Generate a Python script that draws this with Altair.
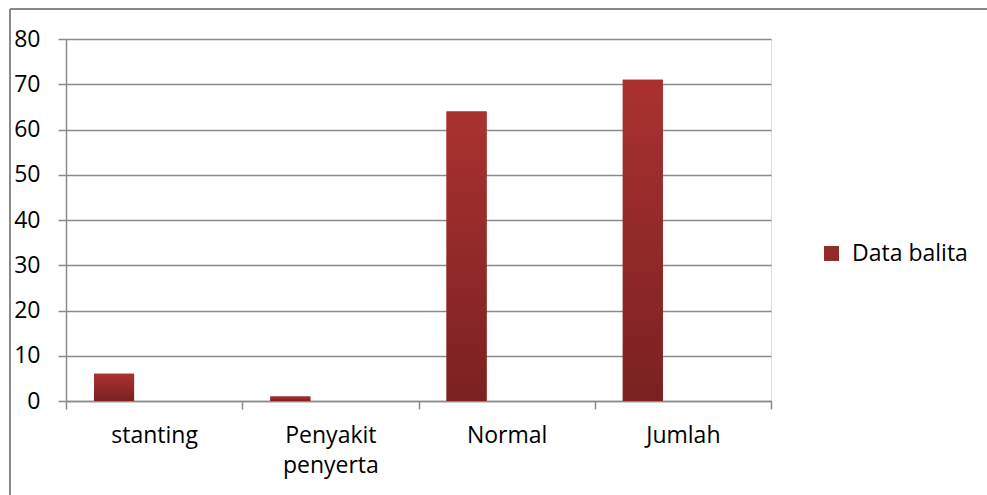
import altair as alt
import pandas as pd

categories = ["stanting", "Penyakit penyerta", "Normal", "Jumlah"]
values = [6, 1, 64, 71]
series_name = "Data balita"
y_ticks = [0, 10, 20, 30, 40, 50, 60, 70, 80]

df = pd.DataFrame({"kategori": categories, "nilai": values, "seri": [series_name] * len(categories)})

FONT = "Open Sans"
FS = 23
GRID = "#8a8a8a"

x_enc = alt.X("kategori:N", sort=categories,
              scale=alt.Scale(paddingInner=0, paddingOuter=0),
              axis=alt.Axis(title=None, labelAngle=0, labelFont=FONT, labelFontSize=FS,
                            labelColor="#000000", labelPadding=15, labelLineHeight=30,
                            labelExpr="datum.value == 'Penyakit penyerta' ? ['Penyakit', 'penyerta'] : datum.value",
                            tickSize=8, tickColor=GRID, tickWidth=1.5, domainColor=GRID,
                            domainWidth=1.5, grid=False, tickBand="extent"))
xo_enc = alt.XOffset("seri:N", scale=alt.Scale(domain=[series_name, "_b", "_c"],
                                               paddingInner=0, paddingOuter=0.7))
y_enc = alt.Y("nilai:Q", scale=alt.Scale(domain=[0, 80], nice=False),
              axis=alt.Axis(title=None, values=y_ticks, labelFont=FONT, labelFontSize=FS,
                            labelColor="#000000", labelPadding=18, tickSize=8,
                            tickColor=GRID, tickWidth=1.5, domainColor=GRID, domainWidth=1.5,
                            gridColor=GRID, gridWidth=1.5))

legend_bars = alt.Chart(df).mark_bar().encode(
    x=x_enc, xOffset=xo_enc, y=y_enc,
    color=alt.Color("seri:N", scale=alt.Scale(domain=[series_name], range=["#962a2a"]),
                    legend=alt.Legend(title=None, orient="none", legendX=754, legendY=203,
                                      symbolType="square", symbolSize=225, symbolStrokeWidth=0,
                                      labelFont=FONT, labelFontSize=FS, labelColor="#000000",
                                      labelOffset=9)))

grad = alt.Gradient(gradient="linear",
                    stops=[alt.GradientStop(color="#aa3131", offset=0),
                           alt.GradientStop(color="#7b2121", offset=1)],
                    x1=0, x2=0, y1=0, y2=1)
grad_bars = alt.Chart(df).mark_bar(fill=grad).encode(x=x_enc, xOffset=xo_enc, y="nilai:Q")

border_top = alt.Chart(df).mark_rule(color=GRID, strokeWidth=1.5).encode(
    x=alt.value(-56), x2=alt.value(960), y=alt.value(-30))
border_left = alt.Chart(df).mark_rule(color=GRID, strokeWidth=1.5).encode(
    x=alt.value(-56), y=alt.value(-30), y2=alt.value(500))

chart = alt.layer(legend_bars, grad_bars, border_top, border_left).properties(
    width=705, height=362,
    autosize=alt.AutoSizeParams(type="none"),
    padding={"left": 66, "top": 39, "right": 216, "bottom": 94},
).configure_view(stroke=None).configure(background="white")

chart.save("out.html", embed_options={"renderer": "svg", "actions": False})
